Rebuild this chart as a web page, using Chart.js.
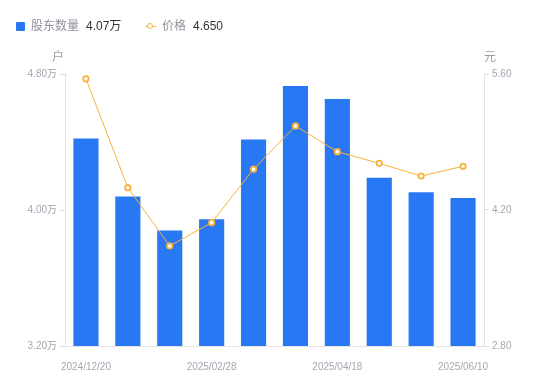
<!DOCTYPE html>
<html>
<head>
<meta charset="utf-8">
<script src="https://cdn.jsdelivr.net/npm/chart.js@4/dist/chart.umd.min.js"></script>
<style>
  html, body { margin: 0; padding: 0; background: #fff; }
  #wrap { position: relative; width: 550px; height: 381px; font-family: "Liberation Sans", "Noto Sans CJK SC", sans-serif; }
  #chart { position: absolute; left: 0; top: 0; }
  .lg { position: absolute; top: 18px; height: 16px; line-height: 16px; font-size: 12px; white-space: nowrap; }
  .lg .name { color: #8d929c; }
  .lg .val { color: #333; margin-left: 7px; }
  .unit { position: absolute; top: 49px; font-size: 12px; color: #9a9ea8; line-height: 16px; }
</style>
</head>
<body>
<div id="wrap">
  <canvas id="chart" width="550" height="381"></canvas>
  <div class="lg" style="left:16px;">
    <span style="display:inline-block;width:9px;height:9px;background:#2878F4;border-radius:1px;vertical-align:-1px;margin-right:6px;"></span><span class="name" id="n1"></span><span class="val" id="v1"></span>
  </div>
  <div class="lg" style="left:145px;">
    <span style="display:inline-block;position:relative;width:11px;height:9px;margin-right:6px;vertical-align:-1px;">
      <span style="position:absolute;left:0;top:4px;width:11px;height:1px;background:#F7B13C;"></span>
      <span style="position:absolute;left:2px;top:1px;width:4px;height:4px;border:1.5px solid #F7B13C;border-radius:50%;background:#fff;"></span>
    </span><span class="name" id="n2"></span><span class="val" id="v2"></span>
  </div>
  <div class="unit" style="left:52px;" id="u1"></div>
  <div class="unit" style="left:484px;" id="u2"></div>
</div>
<script>
const categories = ['2024/12/20','2024/12/31','2025/01/20','2025/02/28','2025/03/10','2025/03/31','2025/04/18','2025/04/30','2025/05/20','2025/06/10'];
const holders = [4.42, 4.08, 3.88, 3.945, 4.415, 4.73, 4.653, 4.19, 4.104, 4.07];
const prices = [5.55, 4.43, 3.83, 4.07, 4.62, 5.065, 4.80, 4.68, 4.55, 4.65];
const leftTicks = [3.2, 4.0, 4.8];
const rightTicks = [2.8, 4.2, 5.6];
const holderName = '股东数量';
const priceName = '价格';
const leftUnit = '户';
const rightUnit = '元';

document.getElementById('n1').textContent = holderName;
document.getElementById('v1').textContent = holders[holders.length - 1].toFixed(2) + '万';
document.getElementById('n2').textContent = priceName;
document.getElementById('v2').textContent = prices[prices.length - 1].toFixed(3);
document.getElementById('u1').textContent = leftUnit;
document.getElementById('u2').textContent = rightUnit;

const tickFont = { family: '"Liberation Sans", "Noto Sans CJK SC", sans-serif', size: 10 };
const tickColor = '#a3a7b0';
const lineColor = '#F7B13C';

new Chart(document.getElementById('chart'), {
  data: {
    labels: categories,
    datasets: [
      {
        type: 'line', label: priceName, data: prices, yAxisID: 'y1', order: 1,
        borderColor: lineColor, borderWidth: 1, tension: 0,
        pointRadius: 2.7, pointBorderWidth: 1.8, pointBackgroundColor: '#fff', pointBorderColor: lineColor
      },
      {
        type: 'bar', label: holderName, data: holders, yAxisID: 'y', order: 2,
        backgroundColor: '#2878F4', barPercentage: 0.6, categoryPercentage: 1
      }
    ]
  },
  options: {
    responsive: false, animation: false,
    layout: { padding: { top: 74, left: 0, right: 0, bottom: 0 } },
    plugins: { legend: { display: false }, tooltip: { enabled: false } },
    scales: {
      x: {
        type: 'category',
        grid: { display: false },
        border: { display: true, color: '#e3e3e3' },
        ticks: {
          autoSkip: false, maxRotation: 0, padding: 7, color: tickColor, font: tickFont,
          callback: (v, i) => (i % 3 === 0 ? categories[i] : '')
        },
        afterFit: s => { s.height = 35; }
      },
      y: {
        position: 'left', min: 3.2, max: 4.8,
        afterBuildTicks: s => { s.ticks = leftTicks.map(v => ({ value: v })); },
        grid: { drawOnChartArea: false, drawTicks: true, tickLength: 5, color: '#dcdcdc' },
        border: { display: true, color: '#e3e3e3' },
        ticks: { padding: 3, color: tickColor, font: tickFont, callback: v => v.toFixed(2) + '万' },
        afterFit: s => { s.width = 65; }
      },
      y1: {
        position: 'right', min: 2.8, max: 5.6,
        afterBuildTicks: s => { s.ticks = rightTicks.map(v => ({ value: v })); },
        grid: { drawOnChartArea: false, drawTicks: true, tickLength: 5, color: '#dcdcdc' },
        border: { display: true, color: '#e3e3e3' },
        ticks: { padding: 3, color: tickColor, font: tickFont, callback: v => v.toFixed(2) },
        afterFit: s => { s.width = 66; }
      }
    }
  }
});
</script>
</body>
</html>
